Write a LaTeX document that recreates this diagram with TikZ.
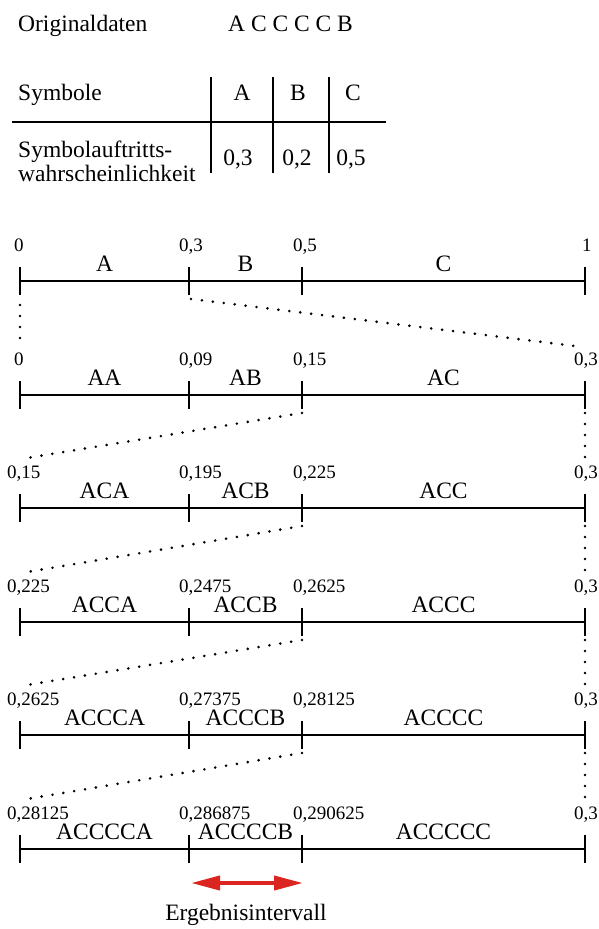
\documentclass[tikz,border=0pt]{standalone}
\usepackage{fontspec}
\setmainfont{Liberation Serif}
\usetikzlibrary{arrows.meta}
\definecolor{arrowred}{RGB}{218,37,33}

% one subdivided interval: id, y, three inner/right bounds, three segment names
\newcommand{\intervalrow}[8]{%
  \coordinate (#1a) at (20,#2);
  \coordinate (#1b) at (189,#2);
  \coordinate (#1c) at (302,#2);
  \coordinate (#1d) at (585,#2);
  \draw[axis] (#1a) -- (#1d);
  \foreach \p in {a,b,c,d}{\draw[axis] ([yshift=14pt]#1\p) -- ([yshift=-14pt]#1\p);}
  \node[axisnum] (#1nb) at ([xshift=-10pt,yshift=30pt]#1b) {#3};
  \node[axisnum] (#1nc) at ([xshift=-9pt,yshift=30pt]#1c) {#4};
  \node[axisnum] (#1nd) at ([xshift=-11pt,yshift=30pt]#1d) {#5};
  \path (#1a) -- (#1b) node[seglabel,midway,yshift=10pt] (#1sa) {#6};
  \path (#1b) -- (#1c) node[seglabel,midway,yshift=10pt] (#1sb) {#7};
  \path (#1c) -- (#1d) node[seglabel,midway,yshift=10pt] (#1sc) {#8};
}

\begin{document}
\begin{tikzpicture}[x=1pt,y=-1pt,
  axis/.style={line width=2.7pt},
  tableline/.style={line width=2.7pt},
  axisnum/.style={font=\fontsize{19}{19}\selectfont,anchor=base west,inner sep=0pt},
  seglabel/.style={font=\fontsize{23.5}{24}\selectfont,anchor=base,inner sep=0pt},
  bigtext/.style={font=\fontsize{23.5}{24}\selectfont,inner sep=0pt},
  dots/.style={line width=2.9pt,line cap=round,dash pattern=on 0pt off 11pt},
  result/.style={arrowred,line width=4pt,
    arrows={Triangle[length=29pt,width=14pt]-Triangle[length=29pt,width=14pt]}}]
\useasboundingbox (0,0) rectangle (598,929);

% header and probability table
\node[bigtext,anchor=base west] (orig) at (18,31) {Originaldaten};
\node[bigtext,anchor=base west] (seq) at (228,31) {A C C C C B};
\node[bigtext,anchor=base west] (sym) at (18,100) {Symbole};
\node[bigtext,anchor=base] (symA) at (242,100) {A};
\node[bigtext,anchor=base] (symB) at (298,100) {B};
\node[bigtext,anchor=base] (symC) at (353,100) {C};
\node[bigtext,anchor=base west] (prob1) at (18,157) {Symbolauftritts-};
\node[bigtext,anchor=base west] (prob2) at (18,181) {wahrscheinlichkeit};
\node[bigtext,anchor=base] (pA) at (238,165) {0,3};
\node[bigtext,anchor=base] (pB) at (297,165) {0,2};
\node[bigtext,anchor=base] (pC) at (351,165) {0,5};
\coordinate (hl) at (12,122);
\coordinate (hr) at (386,122);
\draw[tableline] (hl) -- (hr);
\foreach \x/\n in {211/v1,273/v2,329/v3}{
  \coordinate (\n t) at (\x,77);
  \coordinate (\n b) at (\x,173);
  \draw[tableline] (\n t) -- (\n b);
}

% successive subdivisions
\intervalrow{r1}{281}{0,3}{0,5}{}{A}{B}{C}
\intervalrow{r2}{395}{0,09}{0,15}{0,3}{AA}{AB}{AC}
\intervalrow{r3}{508}{0,195}{0,225}{0,3}{ACA}{ACB}{ACC}
\intervalrow{r4}{622}{0,2475}{0,2625}{0,3}{ACCA}{ACCB}{ACCC}
\intervalrow{r5}{735}{0,27375}{0,28125}{0,3}{ACCCA}{ACCCB}{ACCCC}
\intervalrow{r6}{849}{0,286875}{0,290625}{0,3}{ACCCCA}{ACCCCB}{ACCCCC}

% lower bounds and the right bound of the first line
\node[axisnum] (r1na) at ([xshift=-6pt,yshift=30pt]r1a) {0};
\node[axisnum] (r1nd1) at ([xshift=-3pt,yshift=30pt]r1d) {1};
\node[axisnum] (r2na) at ([xshift=-6pt,yshift=30pt]r2a) {0};
\node[axisnum] (r3na) at ([xshift=-13pt,yshift=30pt]r3a) {0,15};
\node[axisnum] (r4na) at ([xshift=-13pt,yshift=30pt]r4a) {0,225};
\node[axisnum] (r5na) at ([xshift=-13pt,yshift=30pt]r5a) {0,2625};
\node[axisnum] (r6na) at ([xshift=-13pt,yshift=30pt]r6a) {0,28125};

% dotted zoom guides between lines
\draw[dots] ([yshift=-24pt]r1a) -- ([yshift=47pt]r2a);
\draw[dots] ([xshift=2pt,yshift=-18pt]r1b) -- ([xshift=-2pt,yshift=48pt]r2d);
\foreach \u/\v in {r2/r3,r3/r4,r4/r5,r5/r6}{
  \draw[dots] ([yshift=-18pt]\u c) -- ([xshift=7pt,yshift=50pt]\v a);
  \draw[dots] ([yshift=-18pt]\u d) -- ([yshift=48pt]\v d);
}

% result interval
\coordinate (resL) at ([xshift=2pt,yshift=-34pt]r6b);
\coordinate (resR) at ([xshift=1pt,yshift=-34pt]r6c);
\draw[result] (resL) -- (resR);
\node[bigtext,anchor=base] (res) at (246,920) {Ergebnisintervall};
\end{tikzpicture}
\end{document}
